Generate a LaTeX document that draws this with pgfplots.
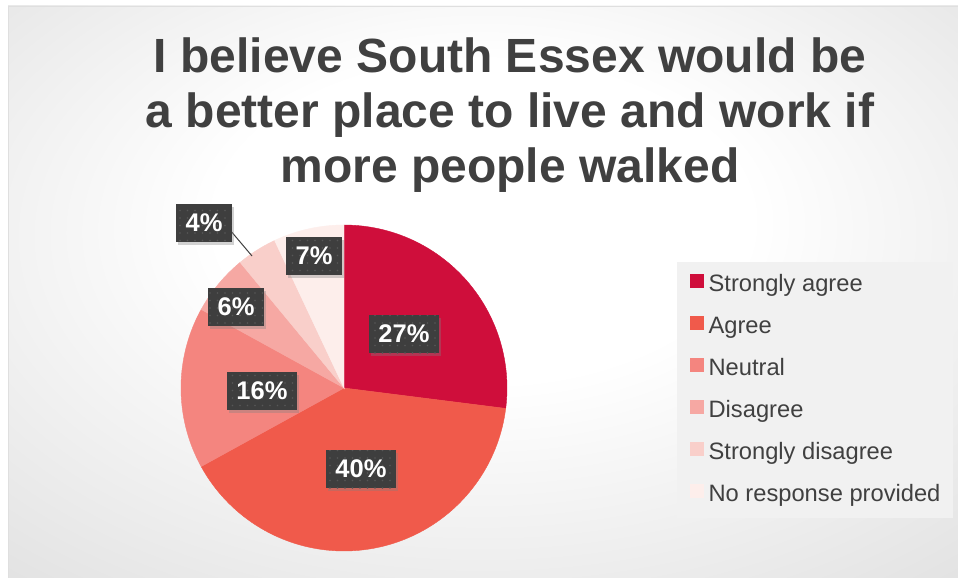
\documentclass[border=0pt]{standalone}
\usepackage{pgfplots}
\pgfplotsset{compat=1.18}
\usepackage{pgfplotstable}
\usepackage{fontspec}
\setmainfont{Liberation Sans}
\usetikzlibrary{shadows,patterns.meta}

\definecolor{titlegray}{RGB}{64,64,64}
\definecolor{lblgray}{RGB}{62,62,62}
\definecolor{c0}{RGB}{207,14,59}
\definecolor{c1}{RGB}{240,90,75}
\definecolor{c2}{RGB}{244,133,127}
\definecolor{c3}{RGB}{246,168,163}
\definecolor{c4}{RGB}{249,207,202}
\definecolor{c5}{RGB}{253,238,235}

\pgfdeclareradialshading{bgshade}{\pgfpoint{0bp}{8bp}}{color(0bp)=(white); color(14bp)=(white); color(62bp)=(gray!45)}

% share of answers, clockwise from 12 o'clock
\pgfplotstableread{
pct
27
40
16
6
4
7
}\piedata

\tikzset{lbl/.style={fill=lblgray, text=white,
    font=\fontsize{25.5bp}{30bp}\selectfont\bfseries,
    minimum height=38bp, inner xsep=9.5bp, inner ysep=0pt,
    drop shadow={shadow xshift=2bp, shadow yshift=-3bp, opacity=0.35},
    postaction={pattern={Dots[distance=7.5bp, radius=0.8bp]}, pattern color=black!66}}}

\begin{document}
\begin{tikzpicture}
% start and end angle of every slice
\def\cum{0}
\pgfplotsforeachungrouped \i in {0,...,5}{%
  \pgfplotstablegetelem{\i}{pct}\of\piedata
  \pgfmathsetmacro\a{-90+3.6*\cum}%
  \pgfmathsetmacro\cum{\cum+\pgfplotsretval}%
  \pgfmathsetmacro\b{-90+3.6*\cum}%
  \expandafter\xdef\csname sa\i\endcsname{\a}%
  \expandafter\xdef\csname sb\i\endcsname{\b}%
}
\begin{axis}[
    width=958bp, height=578bp, scale only axis,
    xmin=0, xmax=958, ymin=0, ymax=578, y dir=reverse,
    hide axis, clip=false,
    legend entries={Strongly agree, Agree, Neutral, Disagree, Strongly disagree, No response provided},
    legend cell align=left,
    legend image code/.code={\fill[#1] (0bp,-1.5bp) rectangle (13bp,11.5bp);},
    legend style={at={(axis cs:677,262)}, anchor=north west, draw=none, fill=gray!11,
        inner xsep=13bp, inner ysep=11bp, row sep=18bp, column sep=5bp,
        font=\fontsize{23.7bp}{28bp}\selectfont, text=titlegray,
        nodes={inner sep=0pt, text height=18bp, text depth=6bp}},
]
\coordinate (ll) at (axis cs:0,578);
\coordinate (ur) at (axis cs:958,0);
\fill[white] (ll) rectangle (ur);
\shade[shading=bgshade] (axis cs:8,6) rectangle (axis cs:958,578);
\draw[gray!25] (axis cs:8,578) -- (axis cs:8,6) -- (axis cs:958,6);

\pgfplotsinvokeforeach{0,...,5}{
  \edef\aa{\csname sa#1\endcsname}
  \edef\bb{\csname sb#1\endcsname}
  \addplot[draw=c#1, line width=0.4bp, fill=c#1, domain=\aa:\bb, samples=90]
    ({344+163*cos(x)},{388+163*sin(x)}) -- (axis cs:344,388) -- cycle;
}

\node[font=\fontsize{48bp}{55bp}\selectfont\bfseries, text=titlegray, align=center]
  at (axis cs:510,115) {I believe South Essex would be\\a better place to live and work if\\more people walked};

\draw[gray!50!black, line width=1bp] (axis cs:230,230) -- (axis cs:252,256);
\node[lbl] at (axis cs:404,334) {27\%};
\node[lbl] at (axis cs:361,469) {40\%};
\node[lbl] at (axis cs:262,391) {16\%};
\node[lbl] at (axis cs:236,307) {6\%};
\node[lbl] at (axis cs:204,223) {4\%};
\node[lbl] at (axis cs:314,256) {7\%};
\end{axis}
\pgfresetboundingbox
\path (ll) rectangle (ur);
\end{tikzpicture}
\end{document}
